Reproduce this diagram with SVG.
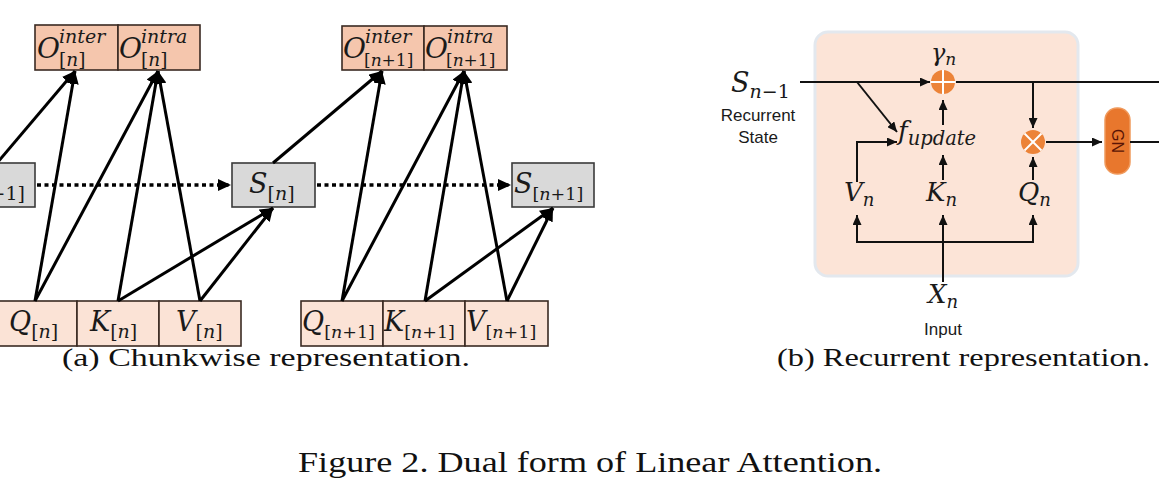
<svg xmlns="http://www.w3.org/2000/svg" width="1159" height="494" viewBox="0 0 1159 494">
<style>
.m{font-family:"DejaVu Serif",serif;font-style:italic;fill:#1a1a1a}
.u{font-style:normal}
.ob{fill:#f5c6ad;stroke:#3a2a22;stroke-width:1.6}
.ib{fill:#fbe3d6;stroke:#3a2a22;stroke-width:1.6}
.sb{fill:#d9d9d9;stroke:#3a3a3a;stroke-width:1.6}
.thick{stroke:#000;stroke-width:3;fill:none}
.thin{stroke:#111;stroke-width:2;fill:none}
.dot{stroke:#000;stroke-width:3.5;fill:none;stroke-dasharray:4 3.5}
.sans{font-family:"Liberation Sans",Arial,sans-serif;fill:#1a1a1a}
.cap{font-family:"Liberation Serif","Times New Roman",serif;fill:#111}
.op{fill:#ec8338}
.opl{stroke:#fff;stroke-width:2}
</style>
<defs>
<marker id="ah" markerUnits="userSpaceOnUse" markerWidth="14" markerHeight="12" refX="13" refY="6" orient="auto"><path d="M0,0 L13,6 L0,12 z" fill="#000"/></marker>
<marker id="as" markerUnits="userSpaceOnUse" markerWidth="10" markerHeight="9" refX="10" refY="4.5" orient="auto"><path d="M0,0 L10,4.5 L0,9 z" fill="#111"/></marker>
</defs>
<rect width="1159" height="494" fill="#fff"/>

<!-- Left: chunkwise -->
<g id="O_inter_n"><rect class="ob" x="35" y="25" width="83" height="45"/><text class="m" x="37" y="58" font-size="28">O</text><text class="m" x="59" y="43" font-size="19">inter</text><text class="m" x="59" y="66" font-size="18.5"><tspan class="u">[</tspan>n<tspan class="u">]</tspan></text></g>
<g id="O_intra_n"><rect class="ob" x="118" y="25" width="82" height="45"/><text class="m" x="119" y="58" font-size="28">O</text><text class="m" x="141" y="43" font-size="19">intra</text><text class="m" x="141" y="66" font-size="18.5"><tspan class="u">[</tspan>n<tspan class="u">]</tspan></text></g>
<g id="O_inter_n1"><rect class="ob" x="342" y="26" width="82" height="44"/><text class="m" x="343" y="58" font-size="28">O</text><text class="m" x="365" y="43" font-size="19">inter</text><text class="m" x="364" y="66" font-size="17"><tspan class="u">[</tspan>n<tspan class="u">+1]</tspan></text></g>
<g id="O_intra_n1"><rect class="ob" x="424" y="26" width="83" height="44"/><text class="m" x="425" y="58" font-size="28">O</text><text class="m" x="447" y="43" font-size="19">intra</text><text class="m" x="446" y="66" font-size="17"><tspan class="u">[</tspan>n<tspan class="u">+1]</tspan></text></g>

<g id="S_nm1"><rect class="sb" x="-50" y="163" width="85" height="44"/><text class="m" x="25" y="193" font-size="27" text-anchor="end">S<tspan font-size="19" dy="7"><tspan class="u">[</tspan>n<tspan class="u">−1]</tspan></tspan></text></g>
<g id="S_n"><rect class="sb" x="232" y="163" width="83" height="44"/><text class="m" x="249" y="193" font-size="27">S<tspan font-size="19" dy="7"><tspan class="u">[</tspan>n<tspan class="u">]</tspan></tspan></text></g>
<g id="S_n1"><rect class="sb" x="512" y="163" width="82" height="44"/><text class="m" x="514" y="193" font-size="27">S<tspan font-size="17.5" dy="7"><tspan class="u">[</tspan>n<tspan class="u">+1]</tspan></tspan></text></g>

<g id="Q_n"><rect class="ib" x="-5" y="301" width="82" height="45"/><text class="m" x="9" y="331" font-size="27">Q<tspan font-size="19" dy="7"><tspan class="u">[</tspan>n<tspan class="u">]</tspan></tspan></text></g>
<g id="K_n"><rect class="ib" x="77" y="301" width="82" height="45"/><text class="m" x="90" y="331" font-size="27">K<tspan font-size="19" dy="7"><tspan class="u">[</tspan>n<tspan class="u">]</tspan></tspan></text></g>
<g id="V_n"><rect class="ib" x="159" y="301" width="82" height="45"/><text class="m" x="176" y="331" font-size="27">V<tspan font-size="19" dy="7"><tspan class="u">[</tspan>n<tspan class="u">]</tspan></tspan></text></g>
<g id="Q_n1"><rect class="ib" x="301" y="301" width="82" height="45"/><text class="m" x="302" y="331" font-size="27">Q<tspan font-size="17.5" dy="7"><tspan class="u">[</tspan>n<tspan class="u">+1]</tspan></tspan></text></g>
<g id="K_n1"><rect class="ib" x="383" y="301" width="82" height="45"/><text class="m" x="384" y="331" font-size="27">K<tspan font-size="17.5" dy="7"><tspan class="u">[</tspan>n<tspan class="u">+1]</tspan></tspan></text></g>
<g id="V_n1"><rect class="ib" x="465" y="301" width="83" height="45"/><text class="m" x="466" y="331" font-size="27">V<tspan font-size="17.5" dy="7"><tspan class="u">[</tspan>n<tspan class="u">+1]</tspan></tspan></text></g>

<g id="connectors-left">
<line class="dot" x1="37" y1="185" x2="231" y2="185" marker-end="url(#ah)"/>
<line class="dot" x1="317" y1="185" x2="511" y2="185" marker-end="url(#ah)"/>
<line class="thick" x1="-3" y1="163" x2="75" y2="71" marker-end="url(#ah)"/>
<line class="thick" x1="35" y1="301" x2="75" y2="71" marker-end="url(#ah)"/>
<line class="thick" x1="35" y1="301" x2="158" y2="71" marker-end="url(#ah)"/>
<line class="thick" x1="118" y1="301" x2="158" y2="71" marker-end="url(#ah)"/>
<line class="thick" x1="200" y1="301" x2="158" y2="71" marker-end="url(#ah)"/>
<line class="thick" x1="118" y1="301" x2="273" y2="208" marker-end="url(#ah)"/>
<line class="thick" x1="200" y1="301" x2="273" y2="208" marker-end="url(#ah)"/>
<line class="thick" x1="273" y1="163" x2="382" y2="71" marker-end="url(#ah)"/>
<line class="thick" x1="342" y1="301" x2="382" y2="71" marker-end="url(#ah)"/>
<line class="thick" x1="342" y1="301" x2="464" y2="71" marker-end="url(#ah)"/>
<line class="thick" x1="425" y1="301" x2="464" y2="71" marker-end="url(#ah)"/>
<line class="thick" x1="507" y1="301" x2="464" y2="71" marker-end="url(#ah)"/>
<line class="thick" x1="425" y1="301" x2="553" y2="208" marker-end="url(#ah)"/>
<line class="thick" x1="507" y1="301" x2="553" y2="208" marker-end="url(#ah)"/>
</g>

<text class="cap" x="62" y="366" font-size="25" textLength="408" lengthAdjust="spacingAndGlyphs">(a) Chunkwise representation.</text>

<!-- Right: recurrent -->
<g id="panel"><rect x="815" y="32" width="263" height="244" rx="13" fill="#fce4d7" stroke="#e3e8ee" stroke-width="3"/></g>

<g id="S_prev"><text class="m" x="731" y="92" font-size="27">S<tspan font-size="19" dy="6">n<tspan class="u">−1</tspan></tspan></text><text class="sans" x="758" y="121" font-size="17" text-anchor="middle">Recurrent</text><text class="sans" x="758" y="143" font-size="17" text-anchor="middle">State</text></g>
<g id="plus"><circle class="op" cx="943" cy="82" r="12"/><line class="opl" x1="931" y1="82" x2="955" y2="82"/><line class="opl" x1="943" y1="70" x2="943" y2="94"/><text class="m" x="931" y="61" font-size="24">γ<tspan font-size="17" dy="4">n</tspan></text></g>
<g id="fupdate"><text class="m" x="898" y="140" font-size="26">f<tspan font-size="19.5" dy="5">update</tspan></text></g>
<g id="times"><circle class="op" cx="1033" cy="142" r="12"/><line class="opl" x1="1024.5" y1="133.5" x2="1041.5" y2="150.5"/><line class="opl" x1="1041.5" y1="133.5" x2="1024.5" y2="150.5"/></g>
<g id="GN"><rect x="1105" y="108" width="25" height="66" rx="12" fill="#e8772d" stroke="#f09a5c" stroke-width="1.5"/><text class="sans" x="0" y="0" font-size="16" text-anchor="middle" transform="translate(1112 141) rotate(90)" style="fill:#5a1505">GN</text></g>
<g id="Vn"><text class="m" x="844" y="201" font-size="26">V<tspan font-size="18" dy="5">n</tspan></text></g>
<g id="Kn"><text class="m" x="926" y="201" font-size="26">K<tspan font-size="18" dy="5">n</tspan></text></g>
<g id="Qn"><text class="m" x="1018" y="201" font-size="26">Q<tspan font-size="18" dy="5">n</tspan></text></g>
<g id="Xn"><text class="m" x="928" y="303" font-size="26">X<tspan font-size="18" dy="5">n</tspan></text><text class="sans" x="943" y="335" font-size="17" text-anchor="middle">Input</text></g>

<g id="connectors-right">
<line class="thin" x1="800" y1="82" x2="930" y2="82" marker-end="url(#as)"/>
<line class="thin" x1="956" y1="82" x2="1160" y2="82"/>
<line class="thin" x1="857" y1="82" x2="897" y2="132" marker-end="url(#as)"/>
<line class="thin" x1="943" y1="125" x2="943" y2="100" marker-end="url(#as)"/>
<line class="thin" x1="943" y1="180" x2="943" y2="155" marker-end="url(#as)"/>
<polyline class="thin" points="857,182 857,142 897,142" marker-end="url(#as)"/>
<line class="thin" x1="1033" y1="82" x2="1033" y2="128" marker-end="url(#as)"/>
<line class="thin" x1="1033" y1="180" x2="1033" y2="157" marker-end="url(#as)"/>
<line class="thin" x1="1046" y1="142" x2="1102" y2="142" marker-end="url(#as)"/>
<line class="thin" x1="1130" y1="142" x2="1160" y2="142"/>
<line class="thin" x1="943" y1="282" x2="943" y2="215" marker-end="url(#as)"/>
<line class="thin" x1="857" y1="242" x2="1033" y2="242"/>
<line class="thin" x1="857" y1="243" x2="857" y2="215" marker-end="url(#as)"/>
<line class="thin" x1="1033" y1="243" x2="1033" y2="215" marker-end="url(#as)"/>
</g>

<text class="cap" x="777" y="366" font-size="25" textLength="373" lengthAdjust="spacingAndGlyphs">(b) Recurrent representation.</text>
<text class="cap" x="298" y="472" font-size="29" textLength="584" lengthAdjust="spacingAndGlyphs">Figure 2. Dual form of Linear Attention.</text>
</svg>
